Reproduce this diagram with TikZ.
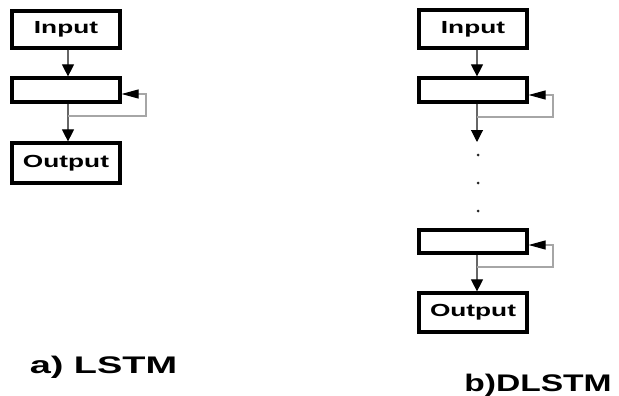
\documentclass[tikz,border=0pt]{standalone}
\usepackage{fontspec}
\setmainfont{Liberation Sans}
\usetikzlibrary{arrows.meta,calc}

\tikzset{
  box/.style={draw=black, line width=3.2pt, fill=white, inner sep=0pt,
              minimum width=108pt, font=\fontsize{17.5}{19}\selectfont\bfseries},
  flow/.style={draw=black!60, line width=1.1pt,
               -{Triangle[length=12pt,width=12pt,color=black,fill=black]}},
  fb/.style={draw=black!35, line width=1.1pt,
             -{Triangle[length=17pt,width=9pt,color=black,fill=black]}},
  dotmark/.style={fill=black!85, circle, inner sep=0pt, minimum size=3pt},
  caption/.style={font=\fontsize{24}{26}\selectfont\bfseries, inner sep=0pt}
}
\newcommand{\wide}[2]{\scalebox{#1}[1]{#2}}

\begin{document}
\begin{tikzpicture}[x=1pt, y=-1pt]
  \useasboundingbox (0,0) rectangle (619,396);

  % ---- a) LSTM ----
  \node[box, minimum height=37pt] (inA)  at (66,29.5)  {\wide{1.5}{Input}};
  \node[box, minimum height=24pt] (hA)   at (66,90)    {};
  \node[box, minimum height=40pt] (outA) at (66,163)   {\wide{1.5}{Output}};
  \coordinate (jA) at (68,116);
  \coordinate (cA) at (146,94);

  \draw[flow] (inA.south -| jA) -- (hA.north -| jA);
  \draw[flow] (hA.south -| jA) -- (outA.north -| jA);
  \draw[fb] (jA) -| (cA) -- (cA -| hA.east);

  \node[caption] (capA) at (103.5,367) {\wide{1.58}{a) LSTM}};

  % ---- b) DLSTM ----
  \node[box, minimum height=38pt] (inB)  at (473,29)   {\wide{1.5}{Input}};
  \node[box, minimum height=24pt] (hB1)  at (473,90)   {};
  \node[box, minimum height=23pt] (hB2)  at (473,241.5){};
  \node[box, minimum height=39pt] (outB) at (473,312.5){\wide{1.5}{Output}};
  \coordinate (jB1) at (477,117);
  \coordinate (cB1) at (553,95);
  \coordinate (tB)  at (477,142);
  \coordinate (jB2) at (477,267);
  \coordinate (cB2) at (553,245);

  \draw[flow] (inB.south -| jB1) -- (hB1.north -| jB1);
  \draw[flow] (hB1.south -| jB1) -- (tB);
  \draw[fb] (jB1) -| (cB1) -- (cB1 -| hB1.east);

  \node[dotmark] (d1) at (478,155) {};
  \node[dotmark] (d2) at (478,183) {};
  \node[dotmark] (d3) at (478,211) {};

  \draw[flow] (hB2.south -| jB2) -- (outB.north -| jB2);
  \draw[fb] (jB2) -| (cB2) -- (cB2 -| hB2.east);

  \node[caption] (capB) at (538,385) {\wide{1.40}{b)DLSTM}};
\end{tikzpicture}
\end{document}
